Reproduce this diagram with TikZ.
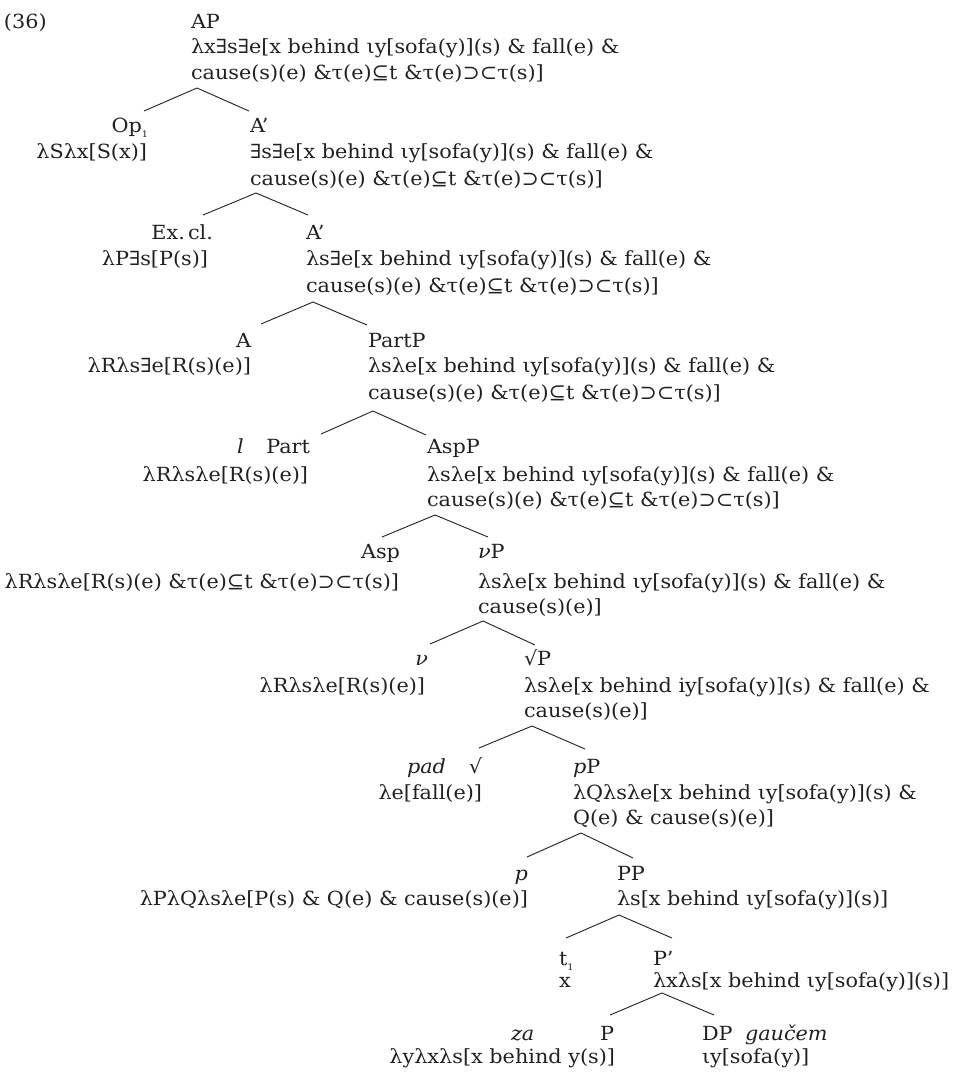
\documentclass[tikz,border=0pt]{standalone}
\usepackage{fontspec}
\setmainfont{DejaVu Serif}[FakeStretch=1.065]
\definecolor{ink}{HTML}{231F20}
\newcommand\tfont{\fontsize{19.5}{26}\selectfont}
\newcommand\subone{\raisebox{-5pt}{\fontsize{9}{9}\selectfont 1}}
\tikzset{
  lbl/.style={inner sep=0pt, outer sep=0pt, font=\tfont, text=ink},
  lw/.style={lbl, anchor=base west},
  le/.style={lbl, anchor=base east},
  br/.style={draw=ink, line width=0.9pt},
}
\begin{document}
\begin{tikzpicture}[x=1pt,y=-1pt]
\useasboundingbox (0,0) rectangle (960,1072);
\node[lw] (num) at (4,28) {(36)};
% level 0
\node[lw] (AP) at (191,28) {AP};
\node[lw] (APa) at (191,53) {λx∃s∃e[x behind ιy[sofa(y)](s) \& fall(e) \&};
\node[lw] (APb) at (191,79) {cause(s)(e) \&τ(e)⊆t \&τ(e)⊃⊂τ(s)]};
\coordinate (b0) at (197,88); \coordinate (b0l) at (144,111); \coordinate (b0r) at (249,111);
\draw[br] (b0l) -- (b0) -- (b0r);
% level 1
\node[le] (Op) at (148,132) {Op\subone};
\node[le] (Opa) at (147,158) {λSλx[S(x)]};
\node[lw] (A1) at (250,132) {A’};
\node[lw] (A1a) at (250,158) {∃s∃e[x behind ιy[sofa(y)](s) \& fall(e) \&};
\node[lw] (A1b) at (250,185) {cause(s)(e) \&τ(e)⊆t \&τ(e)⊃⊂τ(s)]};
\coordinate (b1) at (256,193); \coordinate (b1l) at (203,215); \coordinate (b1r) at (308,215);
\draw[br] (b1l) -- (b1) -- (b1r);
% level 2
\node[le] (Ex) at (213,239) {Ex.\,cl.};
\node[le] (Exa) at (208,265) {λP∃s[P(s)]};
\node[lw] (A2) at (306,239) {A’};
\node[lw] (A2a) at (306,265) {λs∃e[x behind ιy[sofa(y)](s) \& fall(e) \&};
\node[lw] (A2b) at (306,292) {cause(s)(e) \&τ(e)⊆t \&τ(e)⊃⊂τ(s)]};
\coordinate (b2) at (313,302); \coordinate (b2l) at (261,324); \coordinate (b2r) at (367,325);
\draw[br] (b2l) -- (b2) -- (b2r);
% level 3
\node[le] (A) at (251,347) {A};
\node[le] (Aa) at (251,372) {λRλs∃e[R(s)(e)]};
\node[lw] (PartP) at (368,347) {PartP};
\node[lw] (PartPa) at (368,372) {λsλe[x behind ιy[sofa(y)](s) \& fall(e) \&};
\node[lw] (PartPb) at (368,399) {cause(s)(e) \&τ(e)⊆t \&τ(e)⊃⊂τ(s)]};
\coordinate (b3) at (373,411); \coordinate (b3l) at (321,434); \coordinate (b3r) at (426,435);
\draw[br] (b3l) -- (b3) -- (b3r);
% level 4
\node[lw] (lit) at (237,453) {\itshape l};
\node[le] (Part) at (310,453) {Part};
\node[le] (Parta) at (308,481) {λRλsλe[R(s)(e)]};
\node[lw] (AspP) at (427,453) {AspP};
\node[lw] (AspPa) at (427,481) {λsλe[x behind ιy[sofa(y)](s) \& fall(e) \&};
\node[lw] (AspPb) at (427,506) {cause(s)(e) \&τ(e)⊆t \&τ(e)⊃⊂τ(s)]};
\coordinate (b4) at (435,515); \coordinate (b4l) at (382,537); \coordinate (b4r) at (488,537);
\draw[br] (b4l) -- (b4) -- (b4r);
% level 5
\node[le] (Asp) at (400,558) {Asp};
\node[le] (Aspa) at (399,588) {λRλsλe[R(s)(e) \&τ(e)⊆t \&τ(e)⊃⊂τ(s)]};
\node[lw] (vP) at (478,558) {\textit{ν}P};
\node[lw] (vPa) at (478,588) {λsλe[x behind ιy[sofa(y)](s) \& fall(e) \&};
\node[lw] (vPb) at (478,613) {cause(s)(e)]};
\coordinate (b5) at (483,621); \coordinate (b5l) at (430,644); \coordinate (b5r) at (535,645);
\draw[br] (b5l) -- (b5) -- (b5r);
% level 6
\node[le] (v) at (428,665) {\itshape ν};
\node[le] (va) at (425,692) {λRλsλe[R(s)(e)]};
\node[lw] (RP) at (524,665) {√P};
\node[lw] (RPa) at (524,692) {λsλe[x behind iy[sofa(y)](s) \& fall(e) \&};
\node[lw] (RPb) at (524,717) {cause(s)(e)]};
\coordinate (b6) at (532,726); \coordinate (b6l) at (479,748); \coordinate (b6r) at (585,749);
\draw[br] (b6l) -- (b6) -- (b6r);
% level 7
\node[lw] (pad) at (407,773) {\itshape pad};
\node[le] (R) at (482,773) {√};
\node[le] (Ra) at (482,799) {λe[fall(e)]};
\node[lw] (pP) at (573,773) {\textit{p}P};
\node[lw] (pPa) at (573,799) {λQλsλe[x behind ιy[sofa(y)](s) \&};
\node[lw] (pPb) at (573,824) {Q(e) \& cause(s)(e)]};
\coordinate (b7) at (581,833); \coordinate (b7l) at (527,857); \coordinate (b7r) at (633,858);
\draw[br] (b7l) -- (b7) -- (b7r);
% level 8
\node[le] (p) at (528,880) {\itshape p};
\node[le] (pa) at (528,905) {λPλQλsλe[P(s) \& Q(e) \& cause(s)(e)]};
\node[lw] (PP) at (617,880) {PP};
\node[lw] (PPa) at (617,905) {λs[x behind ιy[sofa(y)](s)]};
\coordinate (b8) at (619,915); \coordinate (b8l) at (566,938); \coordinate (b8r) at (672,938);
\draw[br] (b8l) -- (b8) -- (b8r);
% level 9
\node[lw] (t) at (559,965) {t\subone};
\node[lw] (ta) at (559,987) {x};
\node[lw] (Pbar) at (653,965) {P’};
\node[lw] (Pbara) at (653,987) {λxλs[x behind ιy[sofa(y)](s)]};
\coordinate (b9) at (662,993); \coordinate (b9l) at (610,1015); \coordinate (b9r) at (714,1015);
\draw[br] (b9l) -- (b9) -- (b9r);
% level 10
\node[lw] (za) at (511,1040) {\itshape za};
\node[le] (P) at (614,1040) {P};
\node[le] (Pa) at (615,1063) {λyλxλs[x behind y(s)]};
\node[lw] (DP) at (702,1040) {DP};
\node[lw] (gau) at (745,1040) {\itshape gaučem};
\node[lw] (DPa) at (702,1063) {ιy[sofa(y)]};
\end{tikzpicture}
\end{document}
